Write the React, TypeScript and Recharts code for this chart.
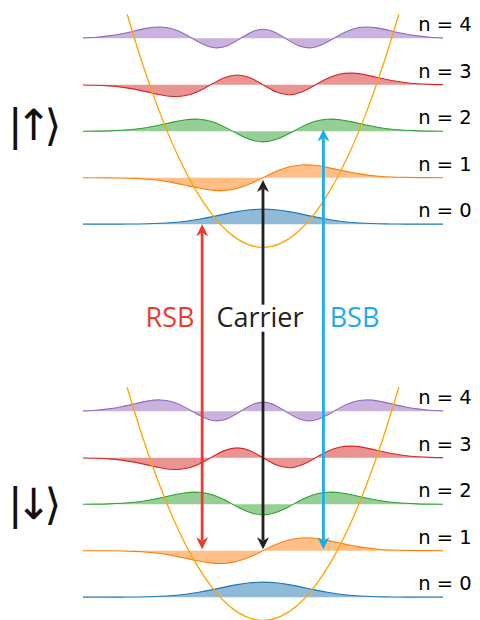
import React from 'react';
import {
  ComposedChart,
  Area,
  Line,
  XAxis,
  YAxis,
  ReferenceLine,
  ReferenceDot,
} from 'recharts';

// Position grid (oscillator units) shared by every wavefunction
const X_GRID = [
  -4.2, -3.9, -3.6, -3.3, -3.0, -2.7, -2.4, -2.1, -1.8, -1.5, -1.2, -0.9, -0.6, -0.3, 0,
  0.3, 0.6, 0.9, 1.2, 1.5, 1.8, 2.1, 2.4, 2.7, 3.0, 3.3, 3.6, 3.9, 4.2,
];

// Wavefunction amplitudes for n = 0 … 4
const PSI_0 = [
  0.0, 0.0, 0.001, 0.003, 0.008, 0.02, 0.042, 0.083, 0.149, 0.244, 0.366, 0.501, 0.627, 0.718, 0.751,
  0.718, 0.627, 0.501, 0.366, 0.244, 0.149, 0.083, 0.042, 0.02, 0.008, 0.003, 0.001, 0.0, 0.0,
];
const PSI_1 = [
  -0.001, -0.002, -0.006, -0.015, -0.035, -0.075, -0.143, -0.246, -0.379, -0.518, -0.621, -0.638, -0.532, -0.305, 0,
  0.305, 0.532, 0.638, 0.621, 0.518, 0.379, 0.246, 0.143, 0.075, 0.035, 0.015, 0.006, 0.002, 0.001,
];
const PSI_2 = [
  0.003, 0.008, 0.02, 0.048, 0.1, 0.188, 0.313, 0.459, 0.577, 0.604, 0.487, 0.22, -0.124, -0.416, -0.531,
  -0.416, -0.124, 0.22, 0.487, 0.604, 0.577, 0.459, 0.313, 0.188, 0.1, 0.048, 0.02, 0.008, 0.003,
];
const PSI_3 = [
  -0.009, -0.023, -0.055, -0.116, -0.217, -0.354, -0.497, -0.583, -0.539, -0.317, 0.03, 0.359, 0.495, 0.351, 0,
  -0.351, -0.495, -0.359, -0.03, 0.317, 0.539, 0.583, 0.497, 0.354, 0.217, 0.116, 0.055, 0.023, 0.009,
];
const PSI_4 = [
  0.023, 0.057, 0.123, 0.23, 0.373, 0.513, 0.572, 0.47, 0.186, -0.187, -0.447, -0.419, -0.102, 0.286, 0.46,
  0.286, -0.102, -0.419, -0.447, -0.187, 0.186, 0.47, 0.572, 0.513, 0.373, 0.23, 0.123, 0.057, 0.023,
];
const PSI = [PSI_0, PSI_1, PSI_2, PSI_3, PSI_4];

const LEVEL_ENERGY = [0.5, 1.5, 2.5, 3.5, 4.5];
const LEVEL_LABELS = ['n = 0', 'n = 1', 'n = 2', 'n = 3', 'n = 4'];
const LEVEL_COLORS = ['#1f77b4', '#ff7f0e', '#2ca02c', '#d62728', '#9467bd'];

// Harmonic trap potential V(x)
const WELL_X = [-3.17, -2.8, -2.4, -2.0, -1.6, -1.2, -0.8, -0.4, 0, 0.4, 0.8, 1.2, 1.6, 2.0, 2.4, 2.8, 3.17];
const WELL_V = [5.02, 3.92, 2.88, 2.0, 1.28, 0.72, 0.32, 0.08, 0, 0.08, 0.32, 0.72, 1.28, 2.0, 2.88, 3.92, 5.02];

// Internal spin states: energy offset of each ladder and its ket
const SPIN_OFFSET = [0, -8.03];
const SPIN_KETS = ['|↑⟩', '|↓⟩'];
const KET_CENTER = [2.57, -5.58];
const KET_X = -5.95;

// Transitions between the ladders
const TRANSITION_NAMES = ['RSB', 'Carrier', 'BSB'];
const TRANSITION_X = [-1.42, 0, 1.41];
const TRANSITION_TOP = [0.5, 1.45, 2.54];
const TRANSITION_BOTTOM = [-6.5, -6.5, -6.5];
const TRANSITION_COLORS = ['#ee3a2c', '#231f20', '#1badea'];
const TRANSITION_LABEL_X = [-2.17, -0.07, 2.135];
const TRANSITION_LABEL_Y = -1.707;

const LABEL_X = 3.62;
const LABEL_LIFT = 0.15;
const AMP = 0.43;
const HEAD = 0.19;

const X_DOMAIN: [number, number] = [-6.1367, 5.0633];
const Y_DOMAIN: [number, number] = [-8.022, 5.326];

const WIDTH = 480;
const HEIGHT = 620;

type Pt = { x: number; y: number };

const waveData = (psi: number[], level: number, offset: number): Pt[] =>
  X_GRID.map((x, i) => ({ x, y: level + offset + AMP * psi[i] }));

const wellData = (offset: number): Pt[] =>
  WELL_X.map((x, i) => ({ x, y: WELL_V[i] + offset }));

const arrowHead = (dir: 'up' | 'down', color: string) => (p: any) => {
  const { cx, cy } = p;
  const s = dir === 'up' ? 1 : -1;
  const pts = [
    [cx, cy],
    [cx - 6, cy + s * 12],
    [cx, cy + s * 8.5],
    [cx + 6, cy + s * 12],
  ]
    .map((q) => q.join(','))
    .join(' ');
  return <polygon points={pts} fill={color} stroke="none" />;
};

const levelLabel = (text: string) => (p: any) => (
  <text
    x={p.cx}
    y={p.cy}
    fontFamily="DejaVu Sans"
    fontSize={19.5}
    fill="#000"
    textAnchor="start"
  >
    {text}
  </text>
);

// Spin ket drawn as a single tightly spaced run
const ketShape = (ket: string) => (p: any) => (
  <text
    x={p.cx}
    y={p.cy + 12}
    fill="#111"
    fontFamily="DejaVu Sans"
    fontSize={43}
    letterSpacing={-7}
    textAnchor="start"
  >
    {ket}
  </text>
);

const transitionLabel = (text: string, color: string, boxed: boolean) => (p: any) => {
  const { cx, cy } = p;
  return (
    <g>
      {boxed && <rect x={cx - 44} y={cy - 22} width={88} height={27} fill="#fff" />}
      <text
        x={cx}
        y={cy}
        fontFamily="Open Sans"
        fontSize={27}
        fill={color}
        textAnchor="middle"
      >
        {text}
      </text>
    </g>
  );
};

export default function App() {
  return (
    <div style={{ position: 'absolute', left: 0, top: 0, width: WIDTH, height: HEIGHT, background: '#fff' }}>
      <ComposedChart width={WIDTH} height={HEIGHT} margin={{ top: 0, right: 0, bottom: 0, left: 0 }}>
        <XAxis type="number" dataKey="x" domain={X_DOMAIN} hide allowDataOverflow />
        <YAxis type="number" domain={Y_DOMAIN} hide allowDataOverflow />

        {SPIN_OFFSET.map((off, g) =>
          PSI.map((psi, n) => (
            <Area
              key={`wave-${g}-${n}`}
              data={waveData(psi, LEVEL_ENERGY[n], off)}
              dataKey="y"
              type="natural"
              baseValue={LEVEL_ENERGY[n] + off}
              stroke={LEVEL_COLORS[n]}
              strokeWidth={1.1}
              fill={LEVEL_COLORS[n]}
              fillOpacity={0.5}
              dot={false}
              activeDot={false}
              isAnimationActive={false}
            />
          ))
        )}

        {SPIN_OFFSET.map((off, g) => (
          <Line
            key={`well-${g}`}
            data={wellData(off)}
            dataKey="y"
            type="natural"
            stroke="#ffa500"
            strokeWidth={1.3}
            dot={false}
            activeDot={false}
            isAnimationActive={false}
          />
        ))}

        {TRANSITION_NAMES.map((name, i) => (
          <ReferenceLine
            key={`shaft-${name}`}
            segment={[
              { x: TRANSITION_X[i], y: TRANSITION_BOTTOM[i] + HEAD },
              { x: TRANSITION_X[i], y: TRANSITION_TOP[i] - HEAD },
            ]}
            stroke={TRANSITION_COLORS[i]}
            strokeWidth={2.8}
            ifOverflow="visible"
          />
        ))}
        {TRANSITION_NAMES.map((name, i) => (
          <ReferenceDot
            key={`head-up-${name}`}
            x={TRANSITION_X[i]}
            y={TRANSITION_TOP[i]}
            r={0}
            ifOverflow="visible"
            shape={arrowHead('up', TRANSITION_COLORS[i])}
          />
        ))}
        {TRANSITION_NAMES.map((name, i) => (
          <ReferenceDot
            key={`head-down-${name}`}
            x={TRANSITION_X[i]}
            y={TRANSITION_BOTTOM[i]}
            r={0}
            ifOverflow="visible"
            shape={arrowHead('down', TRANSITION_COLORS[i])}
          />
        ))}
        {TRANSITION_NAMES.map((name, i) => (
          <ReferenceDot
            key={`label-${name}`}
            x={TRANSITION_LABEL_X[i]}
            y={TRANSITION_LABEL_Y}
            r={0}
            ifOverflow="visible"
            shape={transitionLabel(name, TRANSITION_COLORS[i], name === 'Carrier')}
          />
        ))}

        {SPIN_OFFSET.map((off, g) =>
          LEVEL_LABELS.map((lab, n) => (
            <ReferenceDot
              key={`lvl-${g}-${n}`}
              x={LABEL_X}
              y={LEVEL_ENERGY[n] + off + LABEL_LIFT}
              r={0}
              ifOverflow="visible"
              shape={levelLabel(lab)}
            />
          ))
        )}

        {SPIN_KETS.map((ket, g) => (
          <ReferenceDot
            key={`ket-${g}`}
            x={KET_X}
            y={KET_CENTER[g]}
            r={0}
            ifOverflow="visible"
            shape={ketShape(ket)}
          />
        ))}
      </ComposedChart>
    </div>
  );
}
